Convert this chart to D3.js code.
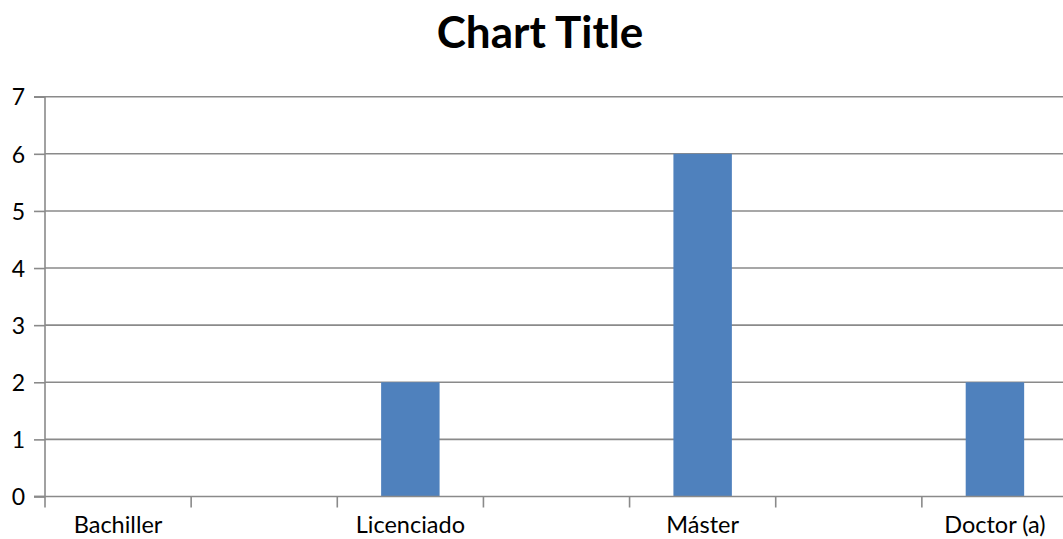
<!DOCTYPE html>
<html><head><meta charset="utf-8">
<script src="https://cdn.jsdelivr.net/npm/d3@7"></script>
<style>body{margin:0;background:#fff;} svg{display:block;font-family:Lato,"Open Sans",sans-serif;}</style>
</head><body><svg id="c" width="1063" height="539"></svg>
<script>
const categories = ["Bachiller", "", "Licenciado", "", "Máster", "", "Doctor (a)"];
const values = [0, 0, 2, 0, 6, 0, 2];
const yTicks = [0, 1, 2, 3, 4, 5, 6, 7];
const title = "Chart Title";

(function () {
const svg = d3.select("#c");
const pLeft = 45, pRight = 1068, pTop = 96.7, pBottom = 496.5;
const x = d3.scaleBand().domain(d3.range(categories.length)).range([pLeft, pRight]).paddingInner(0).paddingOuter(0);
const y = d3.scaleLinear().domain([0, 7]).range([pBottom, pTop]);
const grey = "#8a8a8a";

// gridlines
svg.append("g").selectAll("line").data(yTicks.filter(d => d > 0)).join("line")
  .attr("x1", pLeft).attr("x2", pRight).attr("y1", d => y(d)).attr("y2", d => y(d))
  .attr("stroke", grey).attr("stroke-width", 1.6);

// bars
const bw = x.bandwidth() * 0.4;
svg.append("g").selectAll("rect").data(values.map((v, i) => ({v, i})).filter(d => d.v > 0)).join("rect")
  .attr("x", d => x(d.i) + (x.bandwidth() - bw) / 2).attr("width", bw)
  .attr("y", d => y(d.v)).attr("height", d => y(0) - y(d.v))
  .attr("fill", "#4f81bd");

// y axis
const yAxis = d3.axisLeft(y).tickValues(yTicks).tickSize(11).tickPadding(9).tickFormat(d3.format("d"));
const gy = svg.append("g").attr("transform", `translate(${pLeft},0)`).call(yAxis);
gy.attr("font-size", null).attr("font-family", null);
gy.select(".domain").attr("stroke", grey).attr("stroke-width", 1.6).attr("d", `M-11,${pTop}H0V${pBottom}H-11`);
gy.selectAll(".tick line").attr("stroke", grey).attr("stroke-width", 1.6);
gy.selectAll(".tick text").style("font-size", "23px").attr("fill", "#000").attr("dy", "0.36em");

// x axis
const gx = svg.append("g").attr("transform", `translate(0,${pBottom})`);
gx.append("line").attr("x1", pLeft - 11).attr("x2", pRight).attr("stroke", grey).attr("stroke-width", 1.6);
gx.selectAll("line.t").data(d3.range(categories.length + 1)).join("line").attr("class", "t")
  .attr("x1", i => pLeft + i * x.step()).attr("x2", i => pLeft + i * x.step())
  .attr("y1", 0).attr("y2", 11).attr("stroke", grey).attr("stroke-width", 1.6);
gx.selectAll("text").data(categories.map((c, i) => ({c, i}))).join("text")
  .attr("x", d => x(d.i) + x.bandwidth() / 2).attr("y", 36)
  .attr("text-anchor", "middle").attr("font-size", 23.5).attr("fill", "#000")
  .text(d => d.c);

// title
svg.append("text").attr("x", 540).attr("y", 48).attr("text-anchor", "middle")
  .attr("font-size", 44).attr("font-weight", "bold").attr("fill", "#000").text(title);
})();
</script></body></html>
